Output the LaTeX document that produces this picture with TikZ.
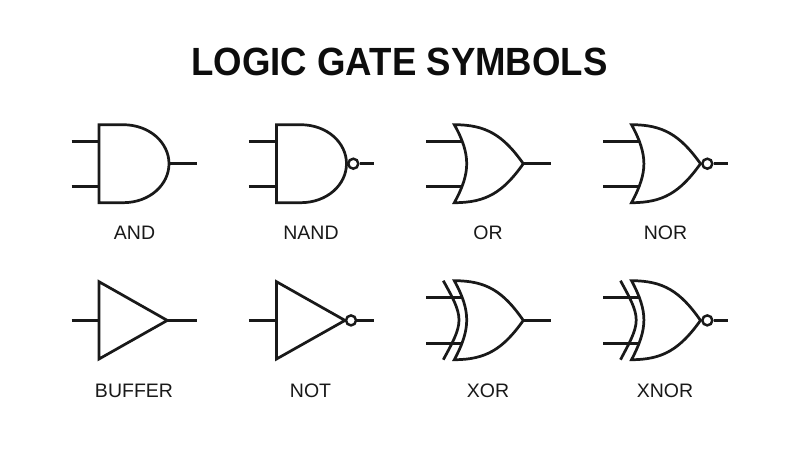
\documentclass[tikz,border=0pt]{standalone}
\usepackage{fontspec}
\setmainfont{Liberation Sans}
\newfontfamily\headfont[FakeStretch=0.93]{Liberation Sans Bold}
\tikzset{
  gate/.style={draw=black!90, line width=1.55pt, fill=white},
  wire/.style={draw=black!90, line width=1.55pt},
  bubble/.style={circle, draw=black!90, line width=1.4pt, fill=white, inner sep=0pt, minimum size=0.2cm},
  gatelabel/.style={font=\fontsize{11.1}{13}\selectfont, text=black!90, inner sep=0pt},
  headline/.style={font=\fontsize{22.4}{26}\headfont, text=black!95, inner sep=0pt}
}
\begin{document}
\begin{tikzpicture}[x=0.02cm, y=-0.02cm]
    \useasboundingbox (0,0) rectangle (800,450);

    \node[headline] (title) at (399.5,62) {LOGIC GATE SYMBOLS};

    % AND
    \coordinate (andA) at (71.5,141.3);
    \coordinate (andB) at (71.5,186.7);
    \coordinate (andAin) at (99,141.3);
    \coordinate (andBin) at (99,186.7);
    \coordinate (andOut) at (169,163.7);
    \coordinate (andEnd) at (196.7,163.7);
    \draw[wire] (andA) -- (andAin);
    \draw[wire] (andB) -- (andBin);
    \draw[wire] (andOut) -- (andEnd);
    \draw[gate] (99,124.7) -- (123,124.7) .. controls (150,124.7) and (169,143) .. (169,163.7) .. controls (169,184.4) and (150,202.7) .. (123,202.7) -- (99,202.7) -- cycle;
    \node[gatelabel] (andText) at (134.5,233) {AND};

    % NAND
    \coordinate (nandA) at (248.8,141.3);
    \coordinate (nandB) at (248.8,186.7);
    \coordinate (nandAin) at (276.5,141.3);
    \coordinate (nandBin) at (276.5,186.7);
    \coordinate (nandEnd) at (373.5,163.7);
    \draw[wire] (nandA) -- (nandAin);
    \draw[wire] (nandB) -- (nandBin);
    \draw[gate] (276.5,124.7) -- (300.5,124.7) .. controls (327.5,124.7) and (346.5,143) .. (346.5,163.7) .. controls (346.5,184.4) and (327.5,202.7) .. (300.5,202.7) -- (276.5,202.7) -- cycle;
    \node[bubble] (nandDot) at (353.3,163.7) {};
    \draw[wire] (nandDot) -- (nandEnd);
    \node[gatelabel] (nandText) at (311,233) {NAND};

    % OR
    \coordinate (orA) at (426,141.3);
    \coordinate (orB) at (426,186.7);
    \coordinate (orAin) at (462,141.3);
    \coordinate (orBin) at (462,186.7);
    \coordinate (orOut) at (523.3,163.7);
    \coordinate (orEnd) at (551,163.7);
    \draw[wire] (orA) -- (orAin);
    \draw[wire] (orB) -- (orBin);
    \draw[wire] (orOut) -- (orEnd);
    \draw[gate] (454.3,124.7) .. controls (486,124.7) and (503,135) .. (523.3,163.7) .. controls (503,192.4) and (486,202.7) .. (454.3,202.7) .. controls (463,187) and (466.7,175) .. (466.7,163.7) .. controls (466.7,152.4) and (463,140) .. cycle;
    \node[gatelabel] (orText) at (488,233) {OR};

    % NOR
    \coordinate (norA) at (603,141.3);
    \coordinate (norB) at (603,186.7);
    \coordinate (norAin) at (639,141.3);
    \coordinate (norBin) at (639,186.7);
    \coordinate (norEnd) at (728.3,163.7);
    \draw[wire] (norA) -- (norAin);
    \draw[wire] (norB) -- (norBin);
    \draw[gate] (631.5,124.7) .. controls (663,124.7) and (680,135) .. (700.5,163.7) .. controls (680,192.4) and (663,202.7) .. (631.5,202.7) .. controls (640,187) and (643.9,175) .. (643.9,163.7) .. controls (643.9,152.4) and (640,140) .. cycle;
    \node[bubble] (norDot) at (707.3,163.7) {};
    \draw[wire] (norDot) -- (norEnd);
    \node[gatelabel] (norText) at (665.5,233) {NOR};

    % BUFFER
    \coordinate (bufA) at (71.5,320.4);
    \coordinate (bufIn) at (99,320.4);
    \coordinate (bufOut) at (167.3,320.4);
    \coordinate (bufEnd) at (196.7,320.4);
    \draw[wire] (bufA) -- (bufIn);
    \draw[wire] (bufOut) -- (bufEnd);
    \draw[gate] (99,281.7) -- (167.3,320.4) -- (99,359) -- cycle;
    \node[gatelabel] (bufText) at (134,390.5) {BUFFER};

    % NOT
    \coordinate (notA) at (248.8,320.4);
    \coordinate (notIn) at (276.5,320.4);
    \coordinate (notEnd) at (373.5,320.4);
    \draw[wire] (notA) -- (notIn);
    \draw[gate] (276.5,281.7) -- (345,320.4) -- (276.5,359) -- cycle;
    \node[bubble] (notDot) at (351,320.4) {};
    \draw[wire] (notDot) -- (notEnd);
    \node[gatelabel] (notText) at (310.5,390.5) {NOT};

    % XOR
    \coordinate (xorA) at (426,297.7);
    \coordinate (xorB) at (426,343.4);
    \coordinate (xorAin) at (462,297.7);
    \coordinate (xorBin) at (462,343.4);
    \coordinate (xorOut) at (523.3,320.4);
    \coordinate (xorEnd) at (551,320.4);
    \draw[wire] (xorA) -- (xorAin);
    \draw[wire] (xorB) -- (xorBin);
    \draw[wire] (xorOut) -- (xorEnd);
    \draw[gate] (454.3,280.7) .. controls (486,280.7) and (503,291) .. (523.3,320.4) .. controls (503,349) and (486,359.7) .. (454.3,359.7) .. controls (463,343.5) and (466.7,331.5) .. (466.7,320) .. controls (466.7,308.5) and (463,296.5) .. cycle;
    \draw[wire] (443.3,280.7) .. controls (452,296.5) and (459,308.5) .. (459,320) .. controls (459,331.5) and (452,343.5) .. (443.3,359.7);
    \node[gatelabel] (xorText) at (488,390.5) {XOR};

    % XNOR
    \coordinate (xnorA) at (603,297.7);
    \coordinate (xnorB) at (603,343.4);
    \coordinate (xnorAin) at (639,297.7);
    \coordinate (xnorBin) at (639,343.4);
    \coordinate (xnorEnd) at (728.3,320.4);
    \draw[wire] (xnorA) -- (xnorAin);
    \draw[wire] (xnorB) -- (xnorBin);
    \draw[gate] (631.5,280.7) .. controls (663,280.7) and (680,291) .. (700.5,320.4) .. controls (680,349) and (663,359.7) .. (631.5,359.7) .. controls (640,343.5) and (643.9,331.5) .. (643.9,320) .. controls (643.9,308.5) and (640,296.5) .. cycle;
    \draw[wire] (620.5,280.7) .. controls (629,296.5) and (636.2,308.5) .. (636.2,320) .. controls (636.2,331.5) and (629,343.5) .. (620.5,359.7);
    \node[bubble] (xnorDot) at (707.3,320.4) {};
    \draw[wire] (xnorDot) -- (xnorEnd);
    \node[gatelabel] (xnorText) at (665,390.5) {XNOR};
\end{tikzpicture}
\end{document}
